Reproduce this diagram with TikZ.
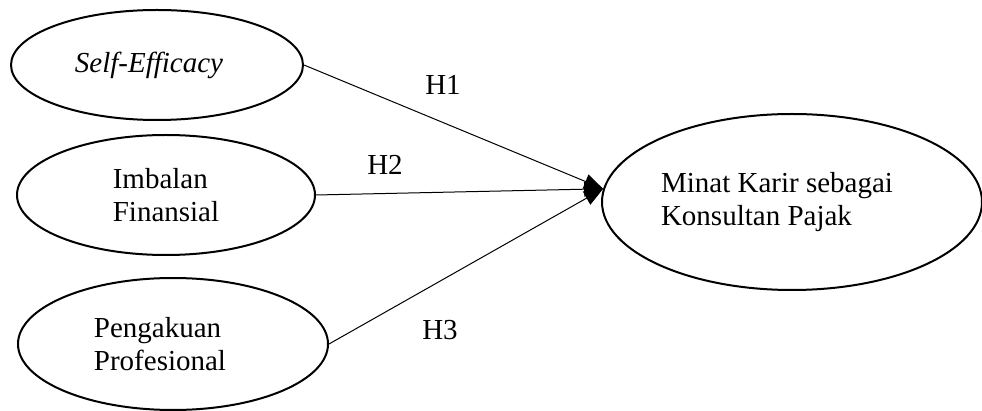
\documentclass[tikz,border=0pt]{standalone}
\usepackage{fontspec}
\setmainfont{Liberation Serif}
\usetikzlibrary{shapes.geometric, arrows.meta}
\tikzset{
    varbox/.style={
        ellipse,
        draw=black,
        line width=2pt,
        inner sep=0pt,
        align=left,
        font=\fontsize{29}{33}\selectfont
    },
    hlabel/.style={
        font=\fontsize{29}{33}\selectfont
    },
    arrowstyle/.style={-{Triangle[length=19pt,width=15pt]}, line width=1pt, color=black}
}
\begin{document}
\begin{tikzpicture}[x=1pt, y=-1pt]
          \useasboundingbox (0,0) rectangle (982,411);
          \node[varbox, minimum width=292pt, minimum height=110pt] (efficacy) at (157,65) {\textit{Self-Efficacy}\hspace*{16pt}};
          \node[varbox, minimum width=298pt, minimum height=120pt] (imbalan) at (166,195) {Imbalan\\Finansial};
          \node[varbox, minimum width=310pt, minimum height=132pt] (pengakuan) at (173,344) {Pengakuan\hspace*{26pt}\\Profesional\hspace*{26pt}};
          \node[varbox, minimum width=380pt, minimum height=176pt] (minat) at (792,202) {Minat Karir sebagai\hspace*{30pt}\\Konsultan Pajak};

          \node[hlabel] (h1) at (443,85) {H1};
          \node[hlabel] (h2) at (385,165) {H2};
          \node[hlabel] (h3) at (440,330) {H3};

          \draw[arrowstyle] (efficacy.east) -- (minat.176);
          \draw[arrowstyle] (imbalan.east) -- (minat.176);
          \draw[arrowstyle] (pengakuan.east) -- (minat.176);
        \end{tikzpicture}
\end{document}
